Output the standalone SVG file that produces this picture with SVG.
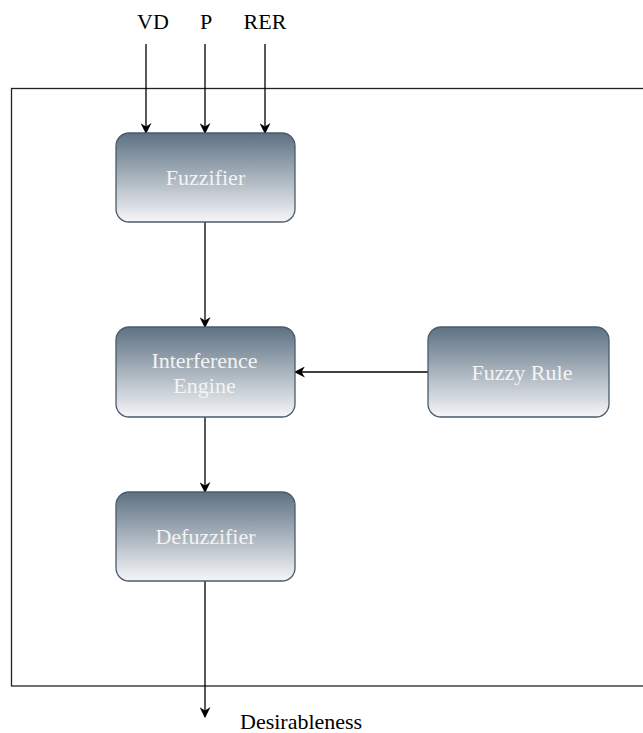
<svg xmlns="http://www.w3.org/2000/svg" width="643" height="733" viewBox="0 0 643 733">
  <defs>
    <linearGradient id="nodeFill" x1="0" y1="0" x2="0" y2="1">
      <stop offset="0" stop-color="#5d7183"/>
      <stop offset="1" stop-color="#f5f6f8"/>
    </linearGradient>
    <marker id="arrow" viewBox="0 0 10 10" refX="9" refY="5" markerWidth="11" markerHeight="11" markerUnits="userSpaceOnUse" orient="auto">
      <path d="M0,0 L10,5 L0,10 L3,5 Z" fill="#000"/>
    </marker>
  </defs>
  <style>
    .frame { fill: none; stroke: #222; stroke-width: 1.3; }
    .node rect { fill: url(#nodeFill); stroke: #4b5b6b; stroke-width: 1.3; }
    .node text { fill: #f4f4f4; font-family: "Liberation Serif", serif; font-size: 22px; text-anchor: middle; }
    .label { fill: #000; font-family: "Liberation Serif", serif; font-size: 22px; text-anchor: middle; }
    .edge { fill: none; stroke: #000; stroke-width: 1.3; marker-end: url(#arrow); }
  </style>
  <rect width="643" height="733" fill="#fff"/>

  <!-- system boundary -->
  <rect class="frame" x="11.5" y="88.5" width="640" height="597.5"/>

  <!-- input / output labels -->
  <text class="label" x="153" y="29">VD</text>
  <text class="label" x="206" y="29">P</text>
  <text class="label" x="265" y="29">RER</text>
  <text class="label" x="240" y="729" style="text-anchor:start">Desirableness</text>

  <g id="connectors">
    <line class="edge" x1="146" y1="44" x2="146" y2="133"/>
    <line class="edge" x1="205" y1="44" x2="205" y2="133"/>
    <line class="edge" x1="265" y1="44" x2="265" y2="133"/>
    <line class="edge" x1="205" y1="222" x2="205" y2="327"/>
    <line class="edge" x1="428" y1="372" x2="295" y2="372"/>
    <line class="edge" x1="205" y1="417" x2="205" y2="492"/>
    <line class="edge" x1="205" y1="581" x2="205" y2="717"/>
  </g>

  <g id="fuzzifier" class="node">
    <rect x="116" y="133" width="179" height="89" rx="13"/>
    <text x="205.5" y="185">Fuzzifier</text>
  </g>
  <g id="interference-engine" class="node">
    <rect x="116" y="327" width="179" height="90" rx="13"/>
    <text x="204.5" y="368">Interference</text>
    <text x="204.5" y="393">Engine</text>
  </g>
  <g id="fuzzy-rule" class="node">
    <rect x="428" y="327" width="181" height="90" rx="13"/>
    <text x="522" y="380">Fuzzy Rule</text>
  </g>
  <g id="defuzzifier" class="node">
    <rect x="116" y="492" width="179" height="89" rx="13"/>
    <text x="205.5" y="544">Defuzzifier</text>
  </g>
</svg>
